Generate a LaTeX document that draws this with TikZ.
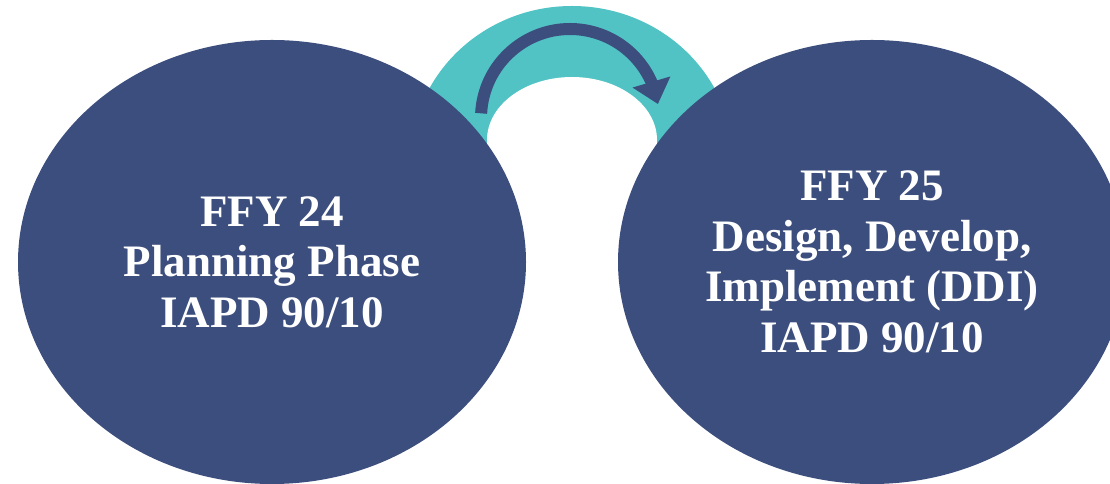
\documentclass[tikz,border=0pt]{standalone}
\usepackage{fontspec}
\setmainfont{Liberation Serif}
\usetikzlibrary{shapes.geometric,arrows.meta,bending,calc}
\definecolor{navy}{RGB}{60,78,125}
\definecolor{teal}{RGB}{81,195,196}
\tikzset{
  phase/.style={ellipse, fill=navy, draw=none, minimum width=508pt, minimum height=444pt,
    inner sep=0pt, text=white, align=center,
    font=\fontsize{45pt}{50.5pt}\selectfont\bfseries},
}
\begin{document}
\begin{tikzpicture}[x=1pt,y=1pt]
\useasboundingbox (0,0) rectangle (1110,484);
\clip (0,0) rectangle (1110,484);
% teal band
\fill[teal] (572,324) ellipse[x radius=161, y radius=154];
\fill[white] (572,344) ellipse[x radius=85, y radius=63];
\fill[white] (487,0) rectangle (657,344);
% curved arrow
\coordinate (arrC) at (570,366);
\coordinate (arrS) at ($(arrC)+(177:89)$);
\draw[navy, line width=12pt, -{Triangle[length=23pt,width=38pt]}]
  (arrS) arc[start angle=177, end angle=9, radius=89];
% phases
\node[phase] (p24) at (272,222) {FFY 24\\Planning Phase\\IAPD 90/10};
\node[phase] (p25) at (872,222) {FFY 25\\Design, Develop,\\Implement (DDI)\\IAPD 90/10};
\end{tikzpicture}
\end{document}
